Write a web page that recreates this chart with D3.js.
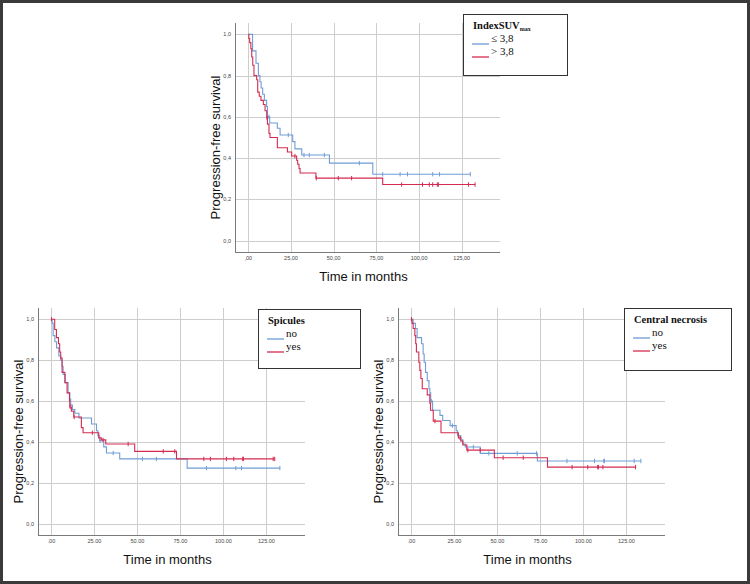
<!DOCTYPE html>
<html>
<head>
<meta charset="utf-8">
<script src="https://cdn.jsdelivr.net/npm/d3@7"></script>
<style>
  html, body { margin: 0; padding: 0; background: #fff; }
  svg { display: block; }
</style>
</head>
<body>
<div id="chart"></div>
<script>
// Kaplan-Meier steps: time (months) where survival drops, and the new value

// IndexSUVmax
const suvLowTimes = [0, 2.5, 4.5, 5.9, 6.8, 7.5, 8.4, 9.4, 10.7, 11.2, 12.5, 17, 18.6, 26, 27.3, 31.3, 47.5, 72.9];
const suvLowSurv = [1, 0.92, 0.86, 0.80, 0.77, 0.74, 0.71, 0.68, 0.65, 0.60, 0.57, 0.545, 0.512, 0.48, 0.445, 0.415, 0.376, 0.322];
const suvLowCensor = [12.1, 23.4, 32.6, 35.7, 44.5, 65, 78.7, 88.9, 93.2, 108, 112, 130];

const suvHighTimes = [0, 0.3, 0.8, 1.5, 2, 2.6, 3.3, 4.9, 5.5, 6.4, 7.4, 8.8, 9.8, 10.8, 11.2, 12.1, 12.7, 17, 22.9, 25.4, 28.3, 28.9, 29.7, 30.3, 39.6, 78.7];
const suvHighSurv = [1, 0.98, 0.96, 0.93, 0.89, 0.85, 0.80, 0.78, 0.72, 0.70, 0.68, 0.66, 0.63, 0.595, 0.565, 0.52, 0.50, 0.45, 0.43, 0.41, 0.39, 0.37, 0.35, 0.328, 0.303, 0.272];
const suvHighCensor = [11, 27.3, 39.8, 52.7, 60.5, 89.8, 102, 106, 108, 110.7, 111.3, 128.9, 132.8];

// Spicules
const spicNoTimes = [0, 0.4, 1, 2, 3, 4.3, 5.4, 6.2, 6.8, 8.1, 9.7, 10.7, 11.2, 12.2, 13.6, 16, 23.3, 26.2, 27, 28, 30.4, 32, 39.7, 78.9];
const spicNoSurv = [1, 0.98, 0.92, 0.89, 0.86, 0.82, 0.80, 0.77, 0.73, 0.69, 0.64, 0.61, 0.58, 0.558, 0.54, 0.517, 0.488, 0.455, 0.43, 0.406, 0.376, 0.346, 0.317, 0.272];
const spicNoCensor = [28.3, 35.9, 52.9, 61, 90.1, 107.2, 110.5, 132.8];

const spicYesTimes = [0, 1.9, 2.9, 4.1, 4.8, 5.4, 6.2, 7.8, 9.1, 10.5, 10.7, 11.6, 13, 17.4, 18.4, 27.5, 29, 31.6, 48.4, 72.7];
const spicYesSurv = [1, 0.95, 0.91, 0.88, 0.84, 0.81, 0.74, 0.69, 0.64, 0.60, 0.571, 0.55, 0.522, 0.47, 0.445, 0.42, 0.41, 0.39, 0.354, 0.317];
const spicYesCensor = [0, 10.9, 13.2, 23.8, 30, 44.6, 65, 71.7, 88.6, 92.4, 101.7, 106, 111.2, 111.6, 128.9, 129.8];

// Central necrosis
const necNoTimes = [0, 1, 2.3, 3.3, 5.9, 6.8, 7.4, 8.2, 9.2, 10.2, 10.7, 11.2, 12.3, 16.6, 18.2, 22.5, 26, 26.8, 28.7, 29.9, 31.3, 40, 73.2];
const necNoSurv = [1, 0.98, 0.955, 0.91, 0.88, 0.83, 0.79, 0.74, 0.70, 0.66, 0.64, 0.60, 0.555, 0.53, 0.505, 0.48, 0.455, 0.43, 0.41, 0.39, 0.375, 0.344, 0.307];
const necNoCensor = [11.5, 23.8, 36, 45, 61.5, 72.7, 90.4, 106.4, 111.8, 112.2, 129.5, 133.4];

const necYesTimes = [0, 0.4, 1, 2, 2.5, 2.9, 4.3, 4.9, 5.5, 6.3, 9.2, 10.7, 11.1, 12.7, 17.2, 27.3, 28.7, 29.9, 32.2, 48.2, 79.1];
const necYesSurv = [1, 0.98, 0.955, 0.92, 0.88, 0.84, 0.79, 0.75, 0.71, 0.66, 0.63, 0.59, 0.555, 0.502, 0.445, 0.42, 0.405, 0.385, 0.36, 0.323, 0.277];
const necYesCensor = [0, 13.7, 28.3, 32.8, 40, 53.3, 65, 93.4, 102.5, 108.3, 108.7, 111.3, 130.3];

// axis ticks
const xTicks = [0, 25, 50, 75, 100, 125];
const yTicks = [0, 0.2, 0.4, 0.6, 0.8, 1.0];
const xTickLabelsComma = [',00', '25,00', '50,00', '75,00', '100,00', '125,00'];
const xTickLabelsDot = ['.00', '25.00', '50.00', '75.00', '100.00', '125.00'];
const yTickLabels = ['0,0', '0,2', '0,4', '0,6', '0,8', '1,0'];

const BLUE = '#6f9dd6';
const RED = '#d42b50';
const width = 750, height = 584;

const svg = d3.select('#chart').append('svg')
    .attr('width', width)
    .attr('height', height);

svg.append('rect')
    .attr('width', width).attr('height', height)
    .attr('fill', '#fff');

// outer frame
svg.append('rect')
    .attr('x', 1.5).attr('y', 1.5)
    .attr('width', width - 3).attr('height', height - 3)
    .attr('fill', 'none')
    .attr('stroke', '#3a3a3a')
    .attr('stroke-width', 3);

function makeSeries(times, surv, censor, color) {
    const pts = times.map((t, i) => [t, surv[i]]);
    const end = d3.max(censor.concat(times));
    pts.push([end, surv[surv.length - 1]]);
    return { pts, censor, color, times, surv };
}

function survAt(s, t) {
    const i = d3.bisectRight(s.times, t) - 1;
    return s.surv[Math.max(0, i)];
}

function drawPanel(cfg) {
    const x = d3.scaleLinear().domain([-7.8, 147.4]).range([cfg.left, cfg.right]);
    const y = d3.scaleLinear().domain([-0.055, 1.055]).range([cfg.bottom, cfg.top]);
    const g = svg.append('g');

    // gridlines
    g.selectAll('.hgrid').data(yTicks).enter().append('line')
        .attr('x1', cfg.left).attr('x2', cfg.right)
        .attr('y1', d => Math.round(y(d)) + 0.5).attr('y2', d => Math.round(y(d)) + 0.5)
        .attr('stroke', '#cdcdcd').attr('stroke-width', 1);
    g.selectAll('.vgrid').data(xTicks).enter().append('line')
        .attr('x1', d => Math.round(x(d)) + 0.5).attr('x2', d => Math.round(x(d)) + 0.5)
        .attr('y1', cfg.top).attr('y2', cfg.bottom)
        .attr('stroke', '#cdcdcd').attr('stroke-width', 1);

    // axis lines
    g.append('line')
        .attr('x1', cfg.left + 0.5).attr('x2', cfg.left + 0.5)
        .attr('y1', cfg.top).attr('y2', cfg.bottom)
        .attr('stroke', '#7a7a7a');
    g.append('line')
        .attr('x1', cfg.left).attr('x2', cfg.right)
        .attr('y1', cfg.bottom + 0.5).attr('y2', cfg.bottom + 0.5)
        .attr('stroke', '#7a7a7a');

    // tick labels
    g.selectAll('.xt').data(xTicks).enter().append('text')
        .attr('x', d => x(d)).attr('y', cfg.bottom + 8)
        .attr('text-anchor', 'middle')
        .attr('font-family', 'Liberation Sans, Arial, sans-serif')
        .attr('font-size', 5.5).attr('fill', '#444')
        .text((d, i) => cfg.xLabels[i]);
    g.selectAll('.yt').data(yTicks).enter().append('text')
        .attr('x', cfg.left - 4).attr('y', d => y(d) + 2)
        .attr('text-anchor', 'end')
        .attr('font-family', 'Liberation Sans, Arial, sans-serif')
        .attr('font-size', 5.5).attr('fill', '#444')
        .text((d, i) => yTickLabels[i]);

    // axis titles
    g.append('text')
        .attr('x', (cfg.left + cfg.right) / 2 - 4).attr('y', cfg.bottom + 29)
        .attr('text-anchor', 'middle')
        .attr('font-family', 'Liberation Sans, Arial, sans-serif')
        .attr('font-size', 13).attr('fill', '#111')
        .text('Time in months');
    g.append('text')
        .attr('transform', `translate(${cfg.left - 15},${(cfg.top + cfg.bottom) / 2 + 10}) rotate(-90)`)
        .attr('text-anchor', 'middle')
        .attr('font-family', 'Liberation Sans, Arial, sans-serif')
        .attr('font-size', 13).attr('fill', '#111')
        .text('Progression-free survival');

    // curves
    const line = d3.line()
        .x(d => x(d[0])).y(d => y(d[1]))
        .curve(d3.curveStepAfter);

    cfg.series.forEach(s => {
        g.append('path')
            .datum(s.pts)
            .attr('d', line)
            .attr('fill', 'none')
            .attr('stroke', s.color)
            .attr('stroke-width', 1.1);
        g.selectAll(null).data(s.censor).enter().append('line')
            .attr('x1', d => x(d)).attr('x2', d => x(d))
            .attr('y1', d => y(survAt(s, d)) - 2.2)
            .attr('y2', d => y(survAt(s, d)) + 2.2)
            .attr('stroke', s.color)
            .attr('stroke-width', 1);
    });

    // legend
    const lg = cfg.legend;
    g.append('rect')
        .attr('x', lg.x + 0.5).attr('y', lg.y + 0.5)
        .attr('width', lg.w).attr('height', lg.h)
        .attr('fill', '#fff')
        .attr('stroke', '#333').attr('stroke-width', 1);
    const title = g.append('text')
        .attr('x', lg.x + 10).attr('y', lg.y + 15)
        .attr('font-family', 'Liberation Serif, Times New Roman, serif')
        .attr('font-weight', 'bold')
        .attr('font-size', 10.5).attr('fill', '#111')
        .text(lg.title);
    if (lg.sub) {
        title.append('tspan')
            .attr('font-size', 6).attr('dy', 2)
            .text(lg.sub);
    }
    lg.items.forEach((it, i) => {
        const ly = lg.y + 30 + i * 13;
        g.append('line')
            .attr('x1', lg.x + 9).attr('x2', lg.x + 26)
            .attr('y1', ly).attr('y2', ly)
            .attr('stroke', cfg.series[i].color)
            .attr('stroke-width', 1.3);
        g.append('text')
            .attr('x', lg.x + 28).attr('y', ly - 2)
            .attr('font-family', 'Liberation Serif, Times New Roman, serif')
            .attr('font-size', 11).attr('fill', '#111')
            .text(it);
    });
}

drawPanel({
    left: 235, right: 500, top: 23, bottom: 252,
    xLabels: xTickLabelsComma,
    series: [
        makeSeries(suvLowTimes, suvLowSurv, suvLowCensor, BLUE),
        makeSeries(suvHighTimes, suvHighSurv, suvHighCensor, RED)
    ],
    legend: { x: 463, y: 14, w: 104, h: 61, title: 'IndexSUV', sub: 'max', items: ['\u2264 3,8', '> 3,8'] }
});

drawPanel({
    left: 38, right: 305, top: 308, bottom: 535,
    xLabels: xTickLabelsDot,
    series: [
        makeSeries(spicNoTimes, spicNoSurv, spicNoCensor, BLUE),
        makeSeries(spicYesTimes, spicYesSurv, spicYesCensor, RED)
    ],
    legend: { x: 258, y: 309, w: 102, h: 59, title: 'Spicules', items: ['no', 'yes'] }
});

drawPanel({
    left: 398, right: 665, top: 308, bottom: 535,
    xLabels: xTickLabelsDot,
    series: [
        makeSeries(necNoTimes, necNoSurv, necNoCensor, BLUE),
        makeSeries(necYesTimes, necYesSurv, necYesCensor, RED)
    ],
    legend: { x: 624, y: 308, w: 107, h: 62, title: 'Central necrosis', items: ['no', 'yes'] }
});
</script>
</body>
</html>
